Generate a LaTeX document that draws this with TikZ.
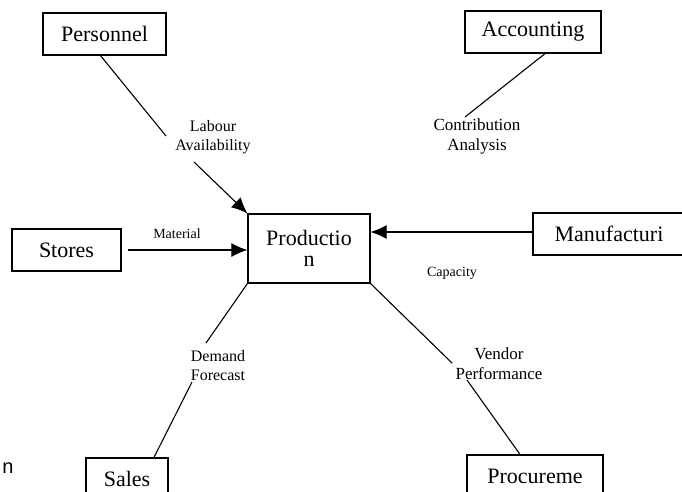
\documentclass[tikz,border=0pt]{standalone}
\usepackage{fontspec}
\setmainfont{Liberation Serif}
\setsansfont{Liberation Sans}
\usetikzlibrary{arrows.meta, calc}

\begin{document}
\begin{tikzpicture}[
        x=1pt, y=-1pt,
        dept/.style={draw, line width=1.2pt, font=\fontsize{22}{21}\selectfont,
                     align=center, inner sep=0pt, minimum height=42pt},
        flow/.style={font=\fontsize{16}{19}\selectfont, align=center, inner sep=1pt},
        tiny/.style={font=\fontsize{14}{16}\selectfont, inner sep=1pt},
        link/.style={line width=1.1pt},
        arr/.style={link, -{Latex[length=16pt, width=14pt]}},
      ]
      \useasboundingbox (0,0) rectangle (682,491);
      \clip (0,0) rectangle (682,491);
      \node[dept, minimum width=123pt] (pers) at (104.5,34) {Personnel};
      \node[dept, minimum width=136pt] (acc) at (533,32) {Accounting};
      \node[dept, minimum width=109pt] (stores) at (66.5,250) {Stores};
      \node[dept, minimum width=122pt, minimum height=69pt] (prod) at (309,248.5) {Productio\\n};
      \node[dept, minimum width=152pt] (manu) at (609,234) {Manufacturi};
      \node[dept, minimum width=82pt] (sales) at (127,479) {Sales};
      \node[dept, minimum width=136pt] (proc) at (535,476) {Procureme};
      \node[font=\sffamily\fontsize{20}{20}\selectfont, anchor=base, inner sep=0pt] (stray) at (8,473) {n};

      \node[flow] (labour) at (213,137) {Labour\\Availability};
      \node[flow, font=\fontsize{17}{20}\selectfont] (contrib) at (477,136) {Contribution\\Analysis};
      \node[tiny] (material) at (177,234) {Material};
      \node[tiny] (capacity) at (452,273) {Capacity};
      \node[flow] (demand) at (218,366) {Demand\\Forecast};
      \node[flow, font=\fontsize{17}{20}\selectfont] (vendor) at (499,364) {Vendor\\Performance};

      \coordinate (l1) at (166,136);
      \coordinate (l2) at (194,162);
      \coordinate (c1) at (465,117);
      \coordinate (d1) at (206,343);
      \coordinate (d2) at (192,382);
      \coordinate (v1) at (452,363);
      \coordinate (v2) at (467,380);

      \draw[link] ($(pers.south)+(-4,0)$) -- (l1);
      \draw[arr] (l2) -- (prod.north west);
      \draw[link] ($(acc.south)+(12,0)$) -- (c1);
      \draw[arr, shorten <=6pt] (stores.east) -- (stores.east -| prod.west);
      \draw[arr] ($(manu.west)+(0,-2)$) -- ($(manu.west -| prod.east)+(0,-2)$);
      \draw[link] (prod.south west) -- (d1);
      \draw[link] (d2) -- ($(sales.north)+(27,0)$);
      \draw[link] (prod.south east) -- (v1);
      \draw[link] (v2) -- ($(proc.north)+(-15,0)$);
    \end{tikzpicture}
\end{document}
